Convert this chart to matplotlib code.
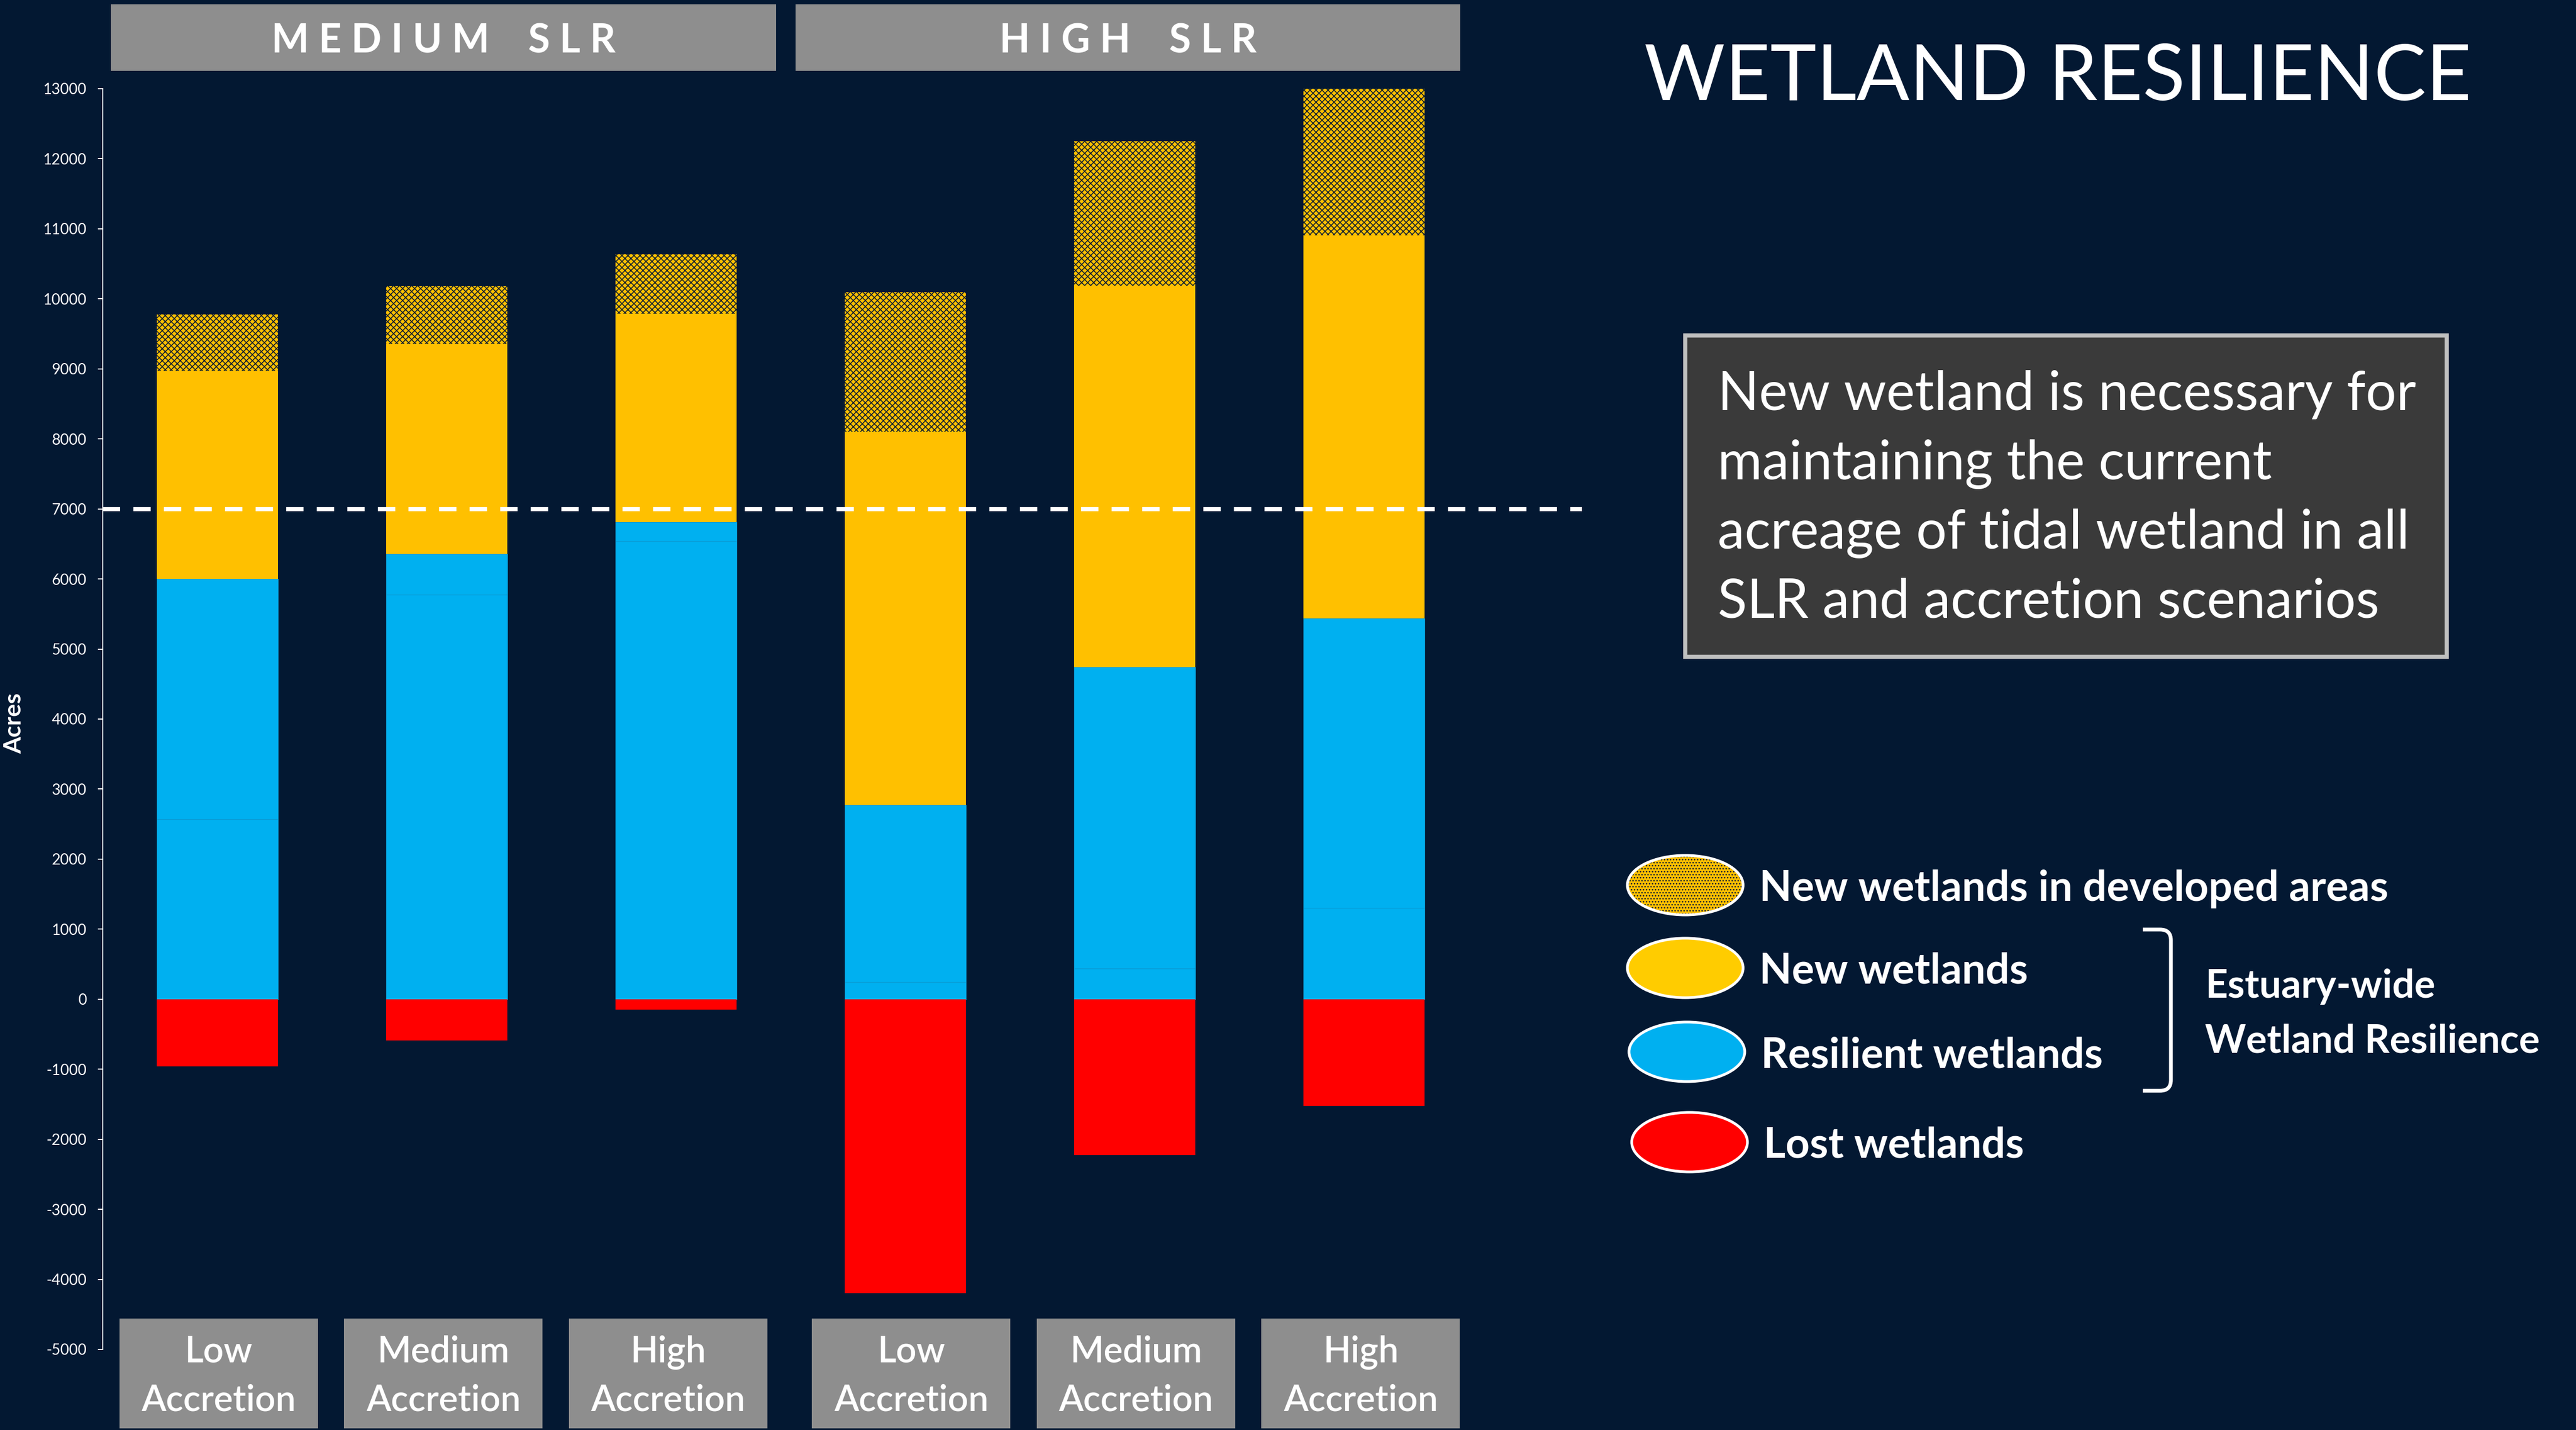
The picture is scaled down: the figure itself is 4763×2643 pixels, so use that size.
import numpy as np
import matplotlib.pyplot as plt
import matplotlib.transforms as mtransforms
from matplotlib.patches import Rectangle, Ellipse, PathPatch
from matplotlib.path import Path

plt.rcParams['font.family'] = ['Lato', 'DejaVu Sans']
plt.rcParams['hatch.linewidth'] = 1.15

# scenarios
slr_groups = ['M E D I U M    S L R', 'H I G H    S L R']
accretion = ['Low', 'Medium', 'High']
scenarios = [(a, 'Accretion') for a in accretion] * 2

# acres per scenario, stacked bottom to top
resilient_lower = [2570, 5780, 6540, 245, 435, 1300]
resilient_upper = [3430, 580, 270, 2525, 4305, 4140]
new_wetlands = [2970, 2990, 2980, 5330, 5445, 5470]
new_developed = [810, 830, 845, 1995, 2065, 2090]
lost_wetlands = [-960, -590, -150, -4200, -2230, -1520]
current_acreage = 7000

y_ticks = list(range(-5000, 13001, 1000))

legend_labels = ['New wetlands in developed areas', 'New wetlands',
                 'Resilient wetlands', 'Lost wetlands']
title = 'WETLAND RESILIENCE'
note_lines = ['New wetland is necessary for',
              'maintaining the current',
              'acreage of tidal wetland in all',
              'SLR and accretion scenarios']

# colours
NAVY = '#031832'
BLUE = '#00B0F0'
BLUE_EDGE = '#0A9AD2'
YELLOW = '#FFC000'
RED = '#FF0000'
GREY = '#8E8E8E'

W, H = 4763, 2643
fig = plt.figure(figsize=(W / 100, H / 100), dpi=100, facecolor=NAVY)

ax = fig.add_axes([190 / W, 1 - 2494 / H, (2925 - 190) / W, (2494 - 164) / H])
ax.set_facecolor(NAVY)

x = np.arange(len(scenarios))
bw = 0.528
base1 = np.array(resilient_lower)
base2 = base1 + np.array(resilient_upper)
base3 = base2 + np.array(new_wetlands)

ax.bar(x, resilient_lower, width=bw, color=BLUE, edgecolor=BLUE_EDGE, linewidth=0.8)
ax.bar(x, resilient_upper, width=bw, bottom=base1, color=BLUE, edgecolor=BLUE_EDGE, linewidth=0.8)
ax.bar(x, new_wetlands, width=bw, bottom=base2, color=YELLOW, linewidth=0)
ax.bar(x, new_developed, width=bw, bottom=base3, color=YELLOW, edgecolor=NAVY,
       hatch='xxx', linewidth=0)
ax.bar(x, lost_wetlands, width=bw, color=RED, linewidth=0)

ax.axhline(current_acreage, color='white', linewidth=5.5, dashes=(4.2, 3.2), zorder=5)

ax.set_xlim(-0.5, 5.95)
ax.set_ylim(-5000, 13000)
ax.set_yticks(y_ticks)
ax.set_yticklabels([str(t) for t in y_ticks])
ax.set_xticks([])
for s in ['top', 'right', 'bottom']:
    ax.spines[s].set_visible(False)
ax.spines['left'].set_color('white')
ax.spines['left'].set_linewidth(1.4)
ax.tick_params(axis='y', colors='white', labelsize=20, length=6.5, width=1.4, pad=15)

# group headers and scenario boxes, x in data units, y in figure units
trans = mtransforms.blended_transform_factory(ax.transData, fig.transFigure)
for name, cx in zip(slr_groups, [0.985, 3.97]):
    ax.add_patch(Rectangle((cx - 1.45, 1 - 131 / H), 2.9, 123 / H, transform=trans,
                           facecolor=GREY, edgecolor='none', clip_on=False))
    ax.text(cx, 1 - 98 / H, name, transform=trans, ha='center', va='baseline',
            color='white', fontsize=53, fontweight='bold')

box_x = [0.005, 0.985, 1.965, 3.025, 4.005, 4.985]
for (top_word, bottom_word), cx in zip(scenarios, box_x):
    ax.add_patch(Rectangle((cx - 0.433, 1 - 2640 / H), 0.866, 203 / H, transform=trans,
                           facecolor=GREY, edgecolor='none', clip_on=False))
    ax.text(cx, 1 - 2517 / H, top_word, transform=trans, ha='center', va='baseline',
            color='white', fontsize=48, fontweight='semibold')
    ax.text(cx, 1 - 2607 / H, bottom_word, transform=trans, ha='center', va='baseline',
            color='white', fontsize=48, fontweight='semibold')

# overlay in pixel units for title, note and legend
ov = fig.add_axes([0, 0, 1, 1], zorder=10)
ov.set_xlim(0, W)
ov.set_ylim(H, 0)
ov.axis('off')

ov.text(26, 1337, 'Acres', rotation=90, ha='center', va='center',
        color='white', fontsize=32, fontweight='bold')

ov.text(3805, 185, title, ha='center', va='baseline', color='white',
        fontsize=104, fontweight='normal')

ov.add_patch(Rectangle((3116, 620), 1408, 594, facecolor='#3A3A3A',
                       edgecolor='#BFBFBF', linewidth=5.5))
for i, line in enumerate(note_lines):
    ov.text(3176, 758 + i * 128, line, ha='left', va='baseline',
            color='white', fontsize=72)

legend_colors = [YELLOW, '#FFCC00', BLUE, RED]
legend_y = [1636, 1789, 1944, 2111]
legend_x = [3116, 3116, 3119, 3124]
for i, (lab, col, ly, lx) in enumerate(zip(legend_labels, legend_colors, legend_y, legend_x)):
    if i == 0:
        ov.add_patch(Ellipse((lx, ly), 212, 108, facecolor=col, edgecolor=NAVY,
                             hatch='...', linewidth=0))
        ov.add_patch(Ellipse((lx, ly), 214, 110, facecolor='none',
                             edgecolor='white', linewidth=3.6))
    else:
        ov.add_patch(Ellipse((lx, ly), 214, 110, facecolor=col,
                             edgecolor='white', linewidth=3.6))
    ov.text(lx + 137, ly, lab, ha='left', va='center_baseline', color='white',
            fontsize=56, fontweight='bold')

# bracket grouping the two resilience categories
r = 20
verts = [(3962, 1718), (4014 - r, 1718), (4014, 1718), (4014, 1718 + r),
         (4014, 2016 - r), (4014, 2016), (4014 - r, 2016), (3962, 2016)]
codes = [Path.MOVETO, Path.LINETO, Path.CURVE3, Path.CURVE3,
         Path.LINETO, Path.CURVE3, Path.CURVE3, Path.LINETO]
ov.add_patch(PathPatch(Path(verts, codes), facecolor='none', edgecolor='white',
                       linewidth=5))
ov.text(4077, 1844, 'Estuary-wide', ha='left', va='baseline', color='white',
        fontsize=52, fontweight='bold')
ov.text(4077, 1946, 'Wetland Resilience', ha='left', va='baseline', color='white',
        fontsize=52, fontweight='bold')

fig.savefig('out.png', dpi=100, facecolor=NAVY)
plt.close('all')
